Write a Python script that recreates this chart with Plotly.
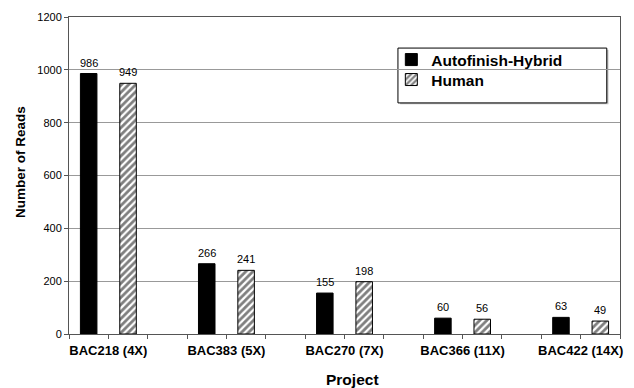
import plotly.graph_objects as go

projects = ["BAC218 (4X)", "BAC383 (5X)", "BAC270 (7X)", "BAC366 (11X)", "BAC422 (14X)"]
autofinish_hybrid = [986, 266, 155, 60, 63]
human = [949, 241, 198, 56, 49]

# each project takes two slots (one per series) followed by an empty slot
slot_step = 3
x_auto = [g * slot_step + 0.5 for g in range(len(projects))]
x_human = [g * slot_step + 1.5 for g in range(len(projects))]
x_labels = [g * slot_step + 1 for g in range(len(projects))]
n_slots = slot_step * len(projects) - 1

FONT = "Liberation Sans, Arial, sans-serif"
LEGEND_FONT = dict(family=FONT, size=15.5, color="black", weight="bold")

fig = go.Figure()
fig.add_trace(go.Bar(
    x=x_auto, y=autofinish_hybrid, name="Autofinish-Hybrid", width=0.42,
    marker=dict(color="black", line=dict(color="black", width=1)),
    legend="legend",
))
fig.add_trace(go.Bar(
    x=x_human, y=human, name="Human", width=0.42,
    marker=dict(color="white", line=dict(color="black", width=1),
                pattern=dict(shape="/", fgcolor="black", bgcolor="white",
                             size=5, solidity=0.55)),
    legend="legend2",
))

# value labels above each bar
value_labels = []
for xs, ys in ((x_auto, autofinish_hybrid), (x_human, human)):
    for xv, yv in zip(xs, ys):
        value_labels.append(dict(
            x=xv, y=yv, xref="x", yref="y", text=str(yv), showarrow=False,
            xanchor="center", yanchor="bottom", yshift=3,
            font=dict(family=FONT, size=11, color="black"),
        ))

legend_common = dict(xanchor="left", yanchor="top", bgcolor="rgba(0,0,0,0)",
                     borderwidth=0, font=LEGEND_FONT)

fig.update_layout(
    width=634, height=388,
    margin=dict(l=69, r=14, t=17, b=54),
    paper_bgcolor="white", plot_bgcolor="white",
    font=dict(family=FONT, color="black"),
    barmode="overlay",
    showlegend=True,
    legend=dict(x=0.585, y=0.918, **legend_common),
    legend2=dict(x=0.585, y=0.855, **legend_common),
    xaxis=dict(
        range=[0, n_slots], tickmode="array", tickvals=x_labels, ticktext=projects,
        tickfont=dict(family=FONT, size=13, color="black", weight="bold"),
        ticks="outside", ticklen=4, tickcolor="#555",
        minor=dict(tickmode="linear", tick0=0, dtick=1, ticks="outside",
                   ticklen=4, tickcolor="#555", showgrid=False),
        showline=True, linecolor="#555", linewidth=1, mirror=True,
        showgrid=False, zeroline=False,
    ),
    yaxis=dict(
        range=[0, 1200], dtick=200,
        tickfont=dict(family=FONT, size=11, color="black"),
        ticks="outside", ticklen=4, tickcolor="#555",
        showline=True, linecolor="#555", linewidth=1, mirror=True,
        showgrid=True, gridcolor="#999", gridwidth=1, zeroline=False,
    ),
    annotations=value_labels + [
        dict(text="<b>Number of Reads</b>", xref="paper", yref="paper",
             x=-0.087, y=0.543, xanchor="center", yanchor="middle", textangle=-90,
             showarrow=False, font=dict(family=FONT, size=13.5, color="black")),
        dict(text="<b>Project</b>", xref="paper", yref="paper",
             x=0.515, y=-0.145, xanchor="center", yanchor="middle",
             showarrow=False, font=dict(family=FONT, size=15.5, color="black")),
    ],
    shapes=[
        # legend frame with a light drop shadow
        dict(type="rect", xref="paper", yref="paper", layer="below",
             x0=0.601, x1=0.979, y0=0.725, y1=0.897,
             fillcolor="#bbb", line=dict(width=0)),
        dict(type="rect", xref="paper", yref="paper", layer="below",
             x0=0.597, x1=0.976, y0=0.729, y1=0.902,
             fillcolor="white", line=dict(color="black", width=1)),
    ],
)

fig.write_html("out.html")
